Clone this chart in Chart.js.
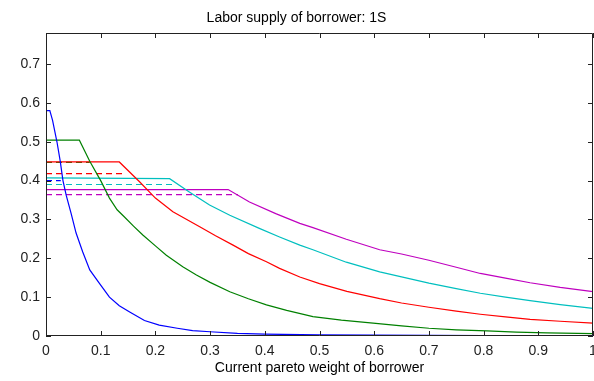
<!DOCTYPE html>
<html>
<head>
<meta charset="utf-8">
<script src="https://cdn.jsdelivr.net/npm/chart.js@4.4.1/dist/chart.umd.min.js"></script>
<style>
  html, body { margin: 0; padding: 0; background: #fff; }
  #wrap { width: 594px; height: 381px; position: relative; }
</style>
</head>
<body>
<div id="wrap"><canvas id="laborChart"></canvas></div>
<script>
// x tick labels / y tick labels
const xTicks = [0, 0.1, 0.2, 0.3, 0.4, 0.5, 0.6, 0.7, 0.8, 0.9, 1];
const yTicks = [0, 0.1, 0.2, 0.3, 0.4, 0.5, 0.6, 0.7];

// solid curves (pareto weight -> labor supply)
const blueX = [0, 0.007, 0.012, 0.02, 0.026, 0.031, 0.037, 0.046, 0.055, 0.067, 0.08, 0.098, 0.116, 0.134, 0.153, 0.18, 0.207, 0.24, 0.268, 0.3, 0.35, 0.4, 0.5, 0.6, 0.8, 1];
const blueY = [0.58, 0.58, 0.555, 0.5, 0.45, 0.4, 0.362, 0.315, 0.265, 0.217, 0.17, 0.135, 0.1, 0.078, 0.062, 0.04, 0.028, 0.02, 0.014, 0.011, 0.007, 0.005, 0.003, 0.002, 0.001, 0.0005];

const greenX = [0, 0.061, 0.08, 0.1, 0.116, 0.13, 0.143, 0.16, 0.177, 0.2, 0.22, 0.25, 0.275, 0.3, 0.336, 0.37, 0.403, 0.44, 0.488, 0.54, 0.598, 0.65, 0.7, 0.75, 0.806, 0.86, 0.916, 1];
const greenY = [0.504, 0.504, 0.45, 0.4, 0.355, 0.325, 0.307, 0.283, 0.26, 0.232, 0.208, 0.178, 0.157, 0.138, 0.114, 0.096, 0.08, 0.066, 0.05, 0.041, 0.033, 0.026, 0.02, 0.016, 0.013, 0.01, 0.008, 0.006];

const redX = [0, 0.134, 0.171, 0.2, 0.232, 0.281, 0.31, 0.342, 0.37, 0.403, 0.427, 0.464, 0.5, 0.55, 0.61, 0.65, 0.7, 0.75, 0.794, 0.84, 0.885, 0.94, 1];
const redY = [0.448, 0.448, 0.397, 0.355, 0.32, 0.281, 0.258, 0.234, 0.212, 0.191, 0.174, 0.152, 0.135, 0.115, 0.096, 0.085, 0.074, 0.064, 0.056, 0.049, 0.043, 0.038, 0.033];

const cyanX = [0, 0.226, 0.262, 0.299, 0.336, 0.39, 0.427, 0.464, 0.488, 0.549, 0.61, 0.65, 0.7, 0.75, 0.794, 0.84, 0.885, 0.94, 1];
const cyanY = [0.407, 0.405, 0.371, 0.337, 0.311, 0.277, 0.255, 0.234, 0.222, 0.19, 0.165, 0.152, 0.136, 0.122, 0.11, 0.1, 0.091, 0.081, 0.071];

const magentaX = [0, 0.333, 0.372, 0.42, 0.464, 0.488, 0.549, 0.61, 0.65, 0.7, 0.75, 0.794, 0.84, 0.885, 0.94, 1];
const magentaY = [0.377, 0.377, 0.345, 0.315, 0.29, 0.279, 0.249, 0.222, 0.211, 0.195, 0.177, 0.161, 0.149, 0.137, 0.125, 0.114];

// dashed reference levels
const blueDashX = [0, 0.027];
const blueDashY = [0.4, 0.4];
const greenDashX = [0, 0.08];
const greenDashY = [0.447, 0.447];
const redDashX = [0, 0.146];
const redDashY = [0.418, 0.418];
const cyanDashX = [0, 0.232];
const cyanDashY = [0.39, 0.39];
const magentaDashX = [0, 0.351];
const magentaDashY = [0.364, 0.364];

const toPoints = (xs, ys) => xs.map((x, i) => ({ x: x, y: ys[i] }));

const line = (label, xs, ys, color, dashed) => ({
  label: label,
  data: toPoints(xs, ys),
  borderColor: color,
  backgroundColor: color,
  borderWidth: 1.2,
  borderDash: dashed ? [6, 4] : [],
  pointRadius: 0,
  showLine: true,
  tension: 0,
});

// matlab style box with inward ticks on all four sides
const matlabBox = {
  id: "matlabBox",
  afterDraw: (chart) => {
    const { ctx, chartArea: a, scales } = chart;
    ctx.save();
    ctx.strokeStyle = "#222";
    ctx.lineWidth = 1;
    ctx.beginPath();
    ctx.rect(a.left + 0.5, a.top + 0.5, a.right - a.left - 1, a.bottom - a.top - 1);
    xTicks.forEach((t) => {
      const px = Math.round(scales.x.getPixelForValue(t)) + 0.5;
      ctx.moveTo(px, a.bottom);
      ctx.lineTo(px, a.bottom - 5);
      ctx.moveTo(px, a.top);
      ctx.lineTo(px, a.top + 5);
    });
    yTicks.forEach((t) => {
      const py = Math.round(scales.y.getPixelForValue(t)) + 0.5;
      ctx.moveTo(a.left, py);
      ctx.lineTo(a.left + 5, py);
      ctx.moveTo(a.right, py);
      ctx.lineTo(a.right - 5, py);
    });
    ctx.stroke();
    ctx.restore();
  },
};

const font = { family: "'Liberation Sans', Arial, sans-serif", size: 14 };

new Chart(document.getElementById("laborChart"), {
  type: "scatter",
  data: {
    datasets: [
      line("blue", blueX, blueY, "#0000ff", false),
      line("green", greenX, greenY, "#008000", false),
      line("red", redX, redY, "#ff0000", false),
      line("cyan", cyanX, cyanY, "#00bfbf", false),
      line("magenta", magentaX, magentaY, "#bf00bf", false),
      line("blue dashed", blueDashX, blueDashY, "#0000ff", true),
      line("green dashed", greenDashX, greenDashY, "#008000", true),
      line("red dashed", redDashX, redDashY, "#ff0000", true),
      line("cyan dashed", cyanDashX, cyanDashY, "#00bfbf", true),
      line("magenta dashed", magentaDashX, magentaDashY, "#bf00bf", true),
    ],
  },
  options: {
    responsive: true,
    maintainAspectRatio: false,
    animation: false,
    layout: { padding: { top: 0, left: 0, right: 1, bottom: 0 } },
    plugins: {
      legend: { display: false },
      tooltip: { enabled: false },
      title: {
        display: true,
        text: "Labor supply of borrower: 1S",
        color: "#000",
        font: { ...font, weight: "normal" },
        padding: { top: 10, bottom: 6.2 },
      },
    },
    scales: {
      x: {
        type: "linear",
        min: 0,
        max: 1,
        afterBuildTicks: (scale) => {
          scale.ticks = xTicks.map((v) => ({ value: v }));
        },
        afterFit: (scale) => {
          scale.height = 45;
          scale.paddingLeft = 0;
          scale.paddingRight = 0;
        },
        grid: { display: false, drawTicks: false },
        border: { display: false },
        ticks: {
          color: "#222",
          font: font,
          padding: 7,
          maxRotation: 0,
          autoSkip: false,
          callback: (v) => String(+v.toFixed(1)),
        },
        title: {
          display: true,
          text: "Current pareto weight of borrower",
          color: "#000",
          font: font,
          padding: { top: 0, bottom: 4 },
        },
      },
      y: {
        type: "linear",
        min: 0,
        max: 0.78,
        afterBuildTicks: (scale) => {
          scale.ticks = yTicks.map((v) => ({ value: v }));
        },
        afterFit: (scale) => {
          scale.width = 46;
        },
        grid: { display: false, drawTicks: false },
        border: { display: false },
        ticks: {
          color: "#222",
          font: font,
          padding: 6,
          autoSkip: false,
          callback: (v) => String(+v.toFixed(1)),
        },
      },
    },
  },
  plugins: [matlabBox],
});
</script>
</body>
</html>
